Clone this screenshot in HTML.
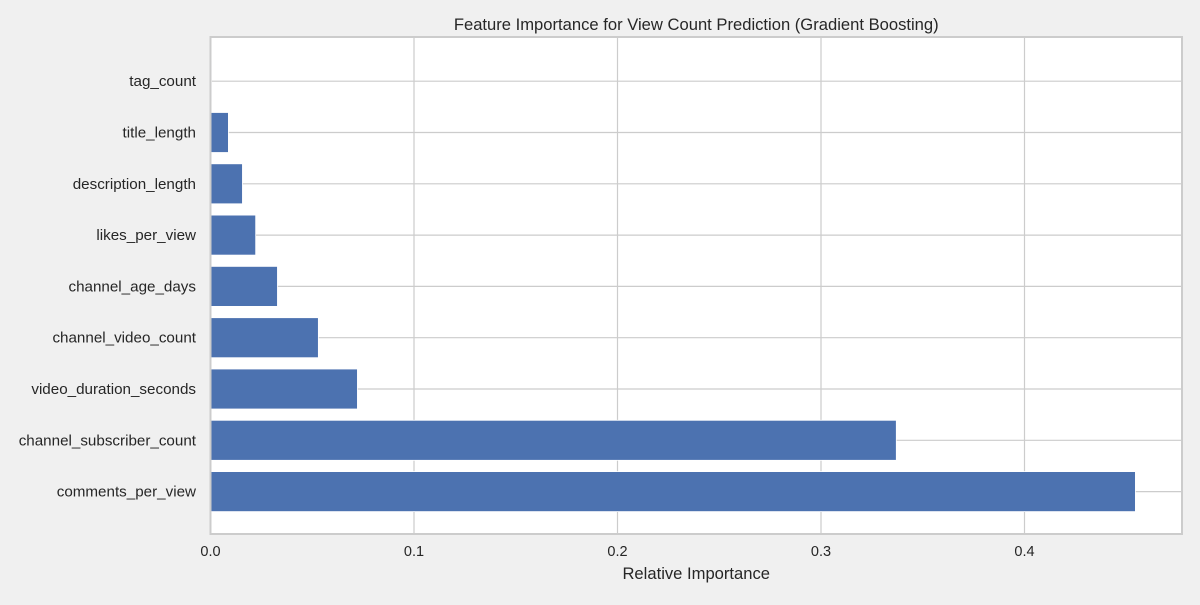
<!DOCTYPE html>
<html><head><meta charset="utf-8"><style>
body{margin:0;background:#f0f0f0;width:1200px;height:600px;overflow:hidden;font-family:"Liberation Sans",sans-serif;}
</style></head><body>
<svg id="chart" width="1200" height="600" xmlns="http://www.w3.org/2000/svg" font-family="Liberation Sans, sans-serif"></svg>
<script>
const categories=["comments_per_view","channel_subscriber_count","video_duration_seconds","channel_video_count","channel_age_days","likes_per_view","description_length","title_length","tag_count"];
const values=[0.4545,0.337,0.0722,0.053,0.0329,0.0222,0.0157,0.0088,0.0005];
const xTicks=[0,0.1,0.2,0.3,0.4];
const xTickLabels=["0.0","0.1","0.2","0.3","0.4"];
const svg=document.getElementById('chart');
const NS='http://www.w3.org/2000/svg';
const L=210.5,R=1182,T=37,B=534;
const x=v=>L+v*2035;
const y0=491.6,step=51.3,bh=40;
const y=i=>y0-i*step;
function mk(tag,attrs,parent){const e=document.createElementNS(NS,tag);for(const k in attrs)e.setAttribute(k,attrs[k]);(parent||svg).appendChild(e);return e;}
const bg=mk('rect',{x:L,y:T,width:R-L,height:B-T,fill:'#ffffff'});


xTicks.forEach((t,i)=>{
 const g=mk('line',{x1:x(t),x2:x(t),y1:T,y2:B,stroke:'#cccccc','stroke-width':1.2});
 
 
 const tl=mk('text',{x:x(t),y:556,'text-anchor':'middle','font-size':14.5,fill:'#262626'});
 tl.textContent=xTickLabels[i];
 
 
});
categories.forEach((c,i)=>{
 const g=mk('line',{x1:L,x2:R,y1:y(i),y2:y(i),stroke:'#cccccc','stroke-width':1.2});
 
 
});
categories.forEach((c,i)=>{
 const b=mk('rect',{x:x(0),y:y(i)-bh/2,width:Math.max(0,x(values[i])-x(0)),height:bh,fill:'#4c72b0',stroke:'#ffffff','stroke-width':0.8});
 
 
 const tl=mk('text',{x:196,y:y(i)+5,'text-anchor':'end','font-size':15.2,fill:'#262626'});
 tl.textContent=c;
 
 
});
const fr=mk('rect',{x:L,y:T,width:R-L,height:B-T,fill:'none',stroke:'#cccccc','stroke-width':2});


const ti=mk('text',{x:(L+R)/2,y:30,'text-anchor':'middle','font-size':16.6,fill:'#262626'});
ti.textContent='Feature Importance for View Count Prediction (Gradient Boosting)';


const xt=mk('text',{x:(L+R)/2,y:579,'text-anchor':'middle','font-size':16.6,fill:'#262626'});
xt.textContent='Relative Importance';


</script>
</body></html>
